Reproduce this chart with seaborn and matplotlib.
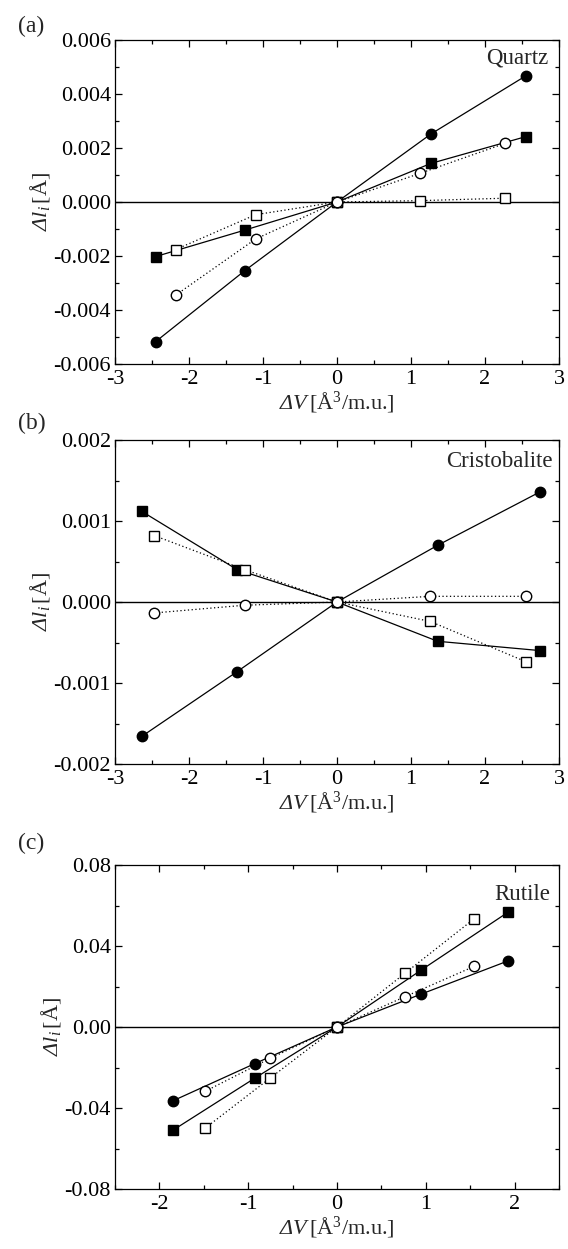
import matplotlib
matplotlib.use("Agg")
import matplotlib.pyplot as plt
import seaborn as sns
import pandas as pd
from matplotlib.ticker import MultipleLocator, FormatStrFormatter

sns.set_theme(style="ticks")
plt.rcParams['font.family'] = ['Liberation Serif', 'DejaVu Serif']
plt.rcParams['mathtext.fontset'] = 'custom'
plt.rcParams['mathtext.rm'] = 'Liberation Serif'
plt.rcParams['mathtext.it'] = 'Liberation Serif:italic'
# sf slot used for italic Greek (mathtext forces capital Greek upright in 'it')
plt.rcParams['mathtext.sf'] = 'Liberation Serif:italic'

# (a) Quartz
qz_x_full = [-2.45, -1.245, 0, 1.27, 2.55]
qz_x_open = [-2.18, -1.10, 0, 1.12, 2.27]
qz_fc = [-0.00517, -0.00254, 0, 0.00252, 0.00467]
qz_fs = [-0.00202, -0.00104, 0, 0.00143, 0.00242]
qz_oc = [-0.00345, -0.00137, 0, 0.00106, 0.00217]
qz_os = [-0.00176, -0.00047, 0, 0.00005, 0.00014]

# (b) Cristobalite
cr_x_full = [-2.64, -1.35, 0, 1.36, 2.745]
cr_x_open = [-2.47, -1.25, 0, 1.26, 2.56]
cr_fc = [-0.00166, -0.00086, 0, 0.00070, 0.00136]
cr_fs = [0.00112, 0.00040, 0, -0.000485, -0.00060]
cr_oc = [-0.000135, -0.00004, 0, 0.00007, 0.00007]
cr_os = [0.00082, 0.00040, 0, -0.00024, -0.00074]

# (c) Rutile
ru_x_full = [-1.845, -0.927, 0, 0.951, 1.93]
ru_x_open = [-1.486, -0.755, 0, 0.767, 1.543]
ru_fc = [-0.0364, -0.0181, 0, 0.0163, 0.0327]
ru_fs = [-0.0509, -0.0253, 0, 0.0282, 0.0568]
ru_oc = [-0.0318, -0.0155, 0, 0.0150, 0.0299]
ru_os = [-0.0500, -0.0253, 0, 0.0266, 0.0534]

panels = [
    dict(tag='(a)', name='Quartz', xf=qz_x_full, xo=qz_x_open,
         fc=qz_fc, fs=qz_fs, oc=qz_oc, os=qz_os,
         xlim=(-3, 3), xmaj=1, ylim=(-0.006, 0.006), ymaj=0.002, yfmt='%.3f',
         bottom=885, name_y=0.944, name_x=0.975, tag_y=26),
    dict(tag='(b)', name='Cristobalite', xf=cr_x_full, xo=cr_x_open,
         fc=cr_fc, fs=cr_fs, oc=cr_oc, os=cr_os,
         xlim=(-3, 3), xmaj=1, ylim=(-0.002, 0.002), ymaj=0.001, yfmt='%.3f',
         bottom=485, name_y=0.933, name_x=0.986, tag_y=423),
    dict(tag='(c)', name='Rutile', xf=ru_x_full, xo=ru_x_open,
         fc=ru_fc, fs=ru_fs, oc=ru_oc, os=ru_os,
         xlim=(-2.5, 2.5), xmaj=1, ylim=(-0.08, 0.08), ymaj=0.04, yfmt='%.2f',
         bottom=60, name_y=0.91, name_x=0.98, tag_y=843),
]

W, H = 568, 1249
FS = 16
fig = plt.figure(figsize=(W / 100, H / 100), dpi=100)

def draw(ax, x, y, marker, filled, dotted, ms):
    df = pd.DataFrame({'x': x, 'y': y})
    sns.lineplot(data=df, x='x', y='y', ax=ax, sort=False, estimator=None,
                 color='black', linewidth=0.9,
                 linestyle=(0, (1, 2)) if dotted else '-',
                 marker=marker, markersize=ms, markeredgewidth=1.0,
                 markeredgecolor='black',
                 markerfacecolor='black' if filled else 'white')

for p in panels:
    ax = fig.add_axes([115 / W, p['bottom'] / H, 444 / W, 324 / H])
    ax.axhline(0, color='black', linewidth=1.0, zorder=1)
    draw(ax, p['xf'], p['fc'], 'o', True, False, 7.5)
    draw(ax, p['xf'], p['fs'], 's', True, False, 6.8)
    draw(ax, p['xo'], p['os'], 's', False, True, 6.8)
    draw(ax, p['xo'], p['oc'], 'o', False, True, 7.5)

    ax.set_xlim(*p['xlim'])
    ax.set_ylim(*p['ylim'])
    ax.xaxis.set_major_locator(MultipleLocator(p['xmaj']))
    ax.xaxis.set_minor_locator(MultipleLocator(p['xmaj'] / 2))
    ax.yaxis.set_major_locator(MultipleLocator(p['ymaj']))
    ax.yaxis.set_minor_locator(MultipleLocator(p['ymaj'] / 2))
    ax.xaxis.set_major_formatter(FormatStrFormatter('%d'))
    ax.yaxis.set_major_formatter(FormatStrFormatter(p['yfmt']))
    ax.tick_params(which='both', direction='in', top=True, right=True,
                   width=0.9, colors='black', labelsize=FS)
    ax.tick_params(axis='x', pad=4)
    ax.tick_params(axis='y', pad=3)
    ax.tick_params(which='major', length=5)
    ax.tick_params(which='minor', length=3)
    for s in ax.spines.values():
        s.set_linewidth(0.9)
        s.set_color('black')

    ax.set_xlabel(r'$\mathsf{\Delta V}\,$[Å$^3$/m.u.]', fontsize=FS, labelpad=0)
    ax.set_ylabel(r'$\mathsf{\Delta l}_{\mathsf{i}}\,$[Å]', fontsize=FS, labelpad=1)
    ax.text(p['name_x'], p['name_y'], p['name'], transform=ax.transAxes,
            ha='right', va='center', fontsize=16.5)
    fig.text(18 / W, 1 - p['tag_y'] / H, p['tag'], ha='left', va='center',
             fontsize=17)

fig.savefig('out.png', dpi=100)
